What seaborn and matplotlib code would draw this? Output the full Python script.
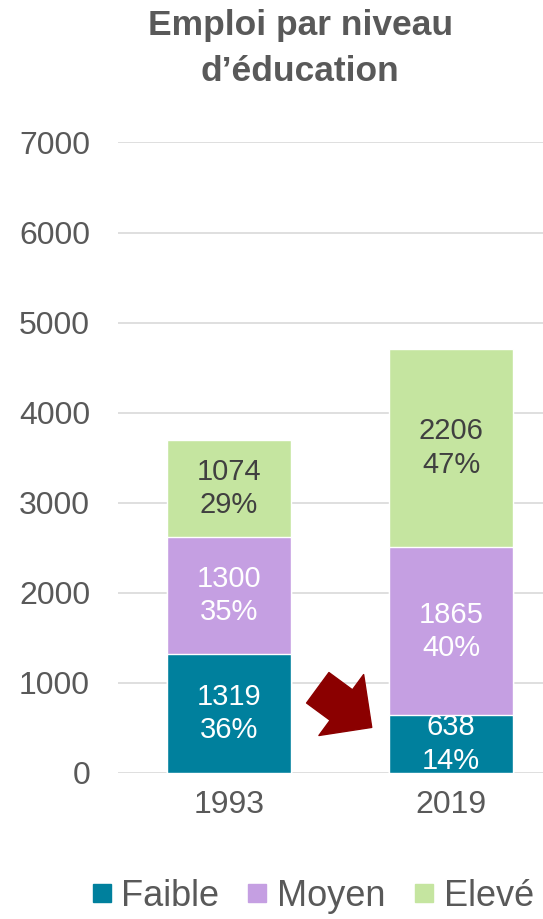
import pandas as pd
import numpy as np
import matplotlib
matplotlib.use("Agg")
import matplotlib.pyplot as plt
import seaborn as sns
from matplotlib.lines import Line2D

# Data
years = ["1993", "2019"]
faible = [1319, 638]
moyen = [1300, 1865]
eleve = [1074, 2206]
pct_faible = ["36%", "14%"]
pct_moyen = ["35%", "40%"]
pct_eleve = ["29%", "47%"]

colors = {"Faible": "#00809D", "Moyen": "#C59FE2", "Elevé": "#C5E5A0"}
grey = "#595959"

sns.set_theme(style="white")
plt.rcParams["font.family"] = ["Liberation Sans", "DejaVu Sans"]

df = pd.DataFrame({"year": years, "Faible": faible, "Moyen": moyen, "Elevé": eleve})
df["low_mid"] = df["Faible"] + df["Moyen"]
df["total"] = df["low_mid"] + df["Elevé"]

fig = plt.figure(figsize=(5.43, 9.19), dpi=100)
ax = fig.add_axes([0.217, 0.159, 0.783, 0.686])

# stacked look: draw cumulative totals, largest first
sns.barplot(data=df, x="year", y="total", color=colors["Elevé"], width=0.56,
            saturation=1, ax=ax, zorder=2)
sns.barplot(data=df, x="year", y="low_mid", color=colors["Moyen"], width=0.56,
            saturation=1, ax=ax, zorder=2)
sns.barplot(data=df, x="year", y="Faible", color=colors["Faible"], width=0.56,
            saturation=1, ax=ax, zorder=2)

# segment labels
for i in range(len(years)):
    segs = [
        (0, faible[i], pct_faible[i], "white"),
        (faible[i], moyen[i], pct_moyen[i], "white"),
        (faible[i] + moyen[i], eleve[i], pct_eleve[i], "#404040"),
    ]
    for base, val, pct, c in segs:
        ax.text(i, base + val / 2, f"{val}\n{pct}", ha="center", va="center",
                fontsize=21, color=c, linespacing=1.25, zorder=3)

ax.set_ylim(0, 7000)
ax.set_xlim(-0.5, 1.414)
ax.set_yticks(range(0, 7001, 1000))
ax.yaxis.grid(True, color="#D9D9D9", linewidth=1.2, zorder=0)
ax.set_axisbelow(True)
for s in ax.spines.values():
    s.set_visible(False)
ax.set_xlabel("")
ax.set_ylabel("")
ax.tick_params(axis="both", length=0, labelsize=23, labelcolor=grey)
ax.tick_params(axis="y", pad=20)
ax.tick_params(axis="x", pad=12)

# arrow pointing at the shrinking low-education segment
ax.annotate("", xy=(0.643, 505), xytext=(0.40, 945),
            arrowprops=dict(arrowstyle="simple,head_length=0.8,head_width=1.6,tail_width=0.8",
                            fc="#8B0000", ec="#8B0000", mutation_scale=34,
                            shrinkA=0, shrinkB=0),
            zorder=4)

fig.text(0.553, 0.99, "Emploi par niveau\nd’éducation", ha="center", va="top",
         fontsize=25.5, fontweight="bold", color=grey, linespacing=1.5)

handles = [Line2D([0], [0], marker="s", linestyle="", markersize=13,
                  markerfacecolor=colors[k], markeredgecolor=colors[k]) for k in colors]
fig.legend(handles, list(colors.keys()), loc="lower center", ncol=3,
           bbox_to_anchor=(0.57, -0.03), frameon=False, fontsize=26,
           handletextpad=0.1, columnspacing=0.6, labelcolor=grey, handlelength=0.9)

fig.savefig("out.png", dpi=100)
